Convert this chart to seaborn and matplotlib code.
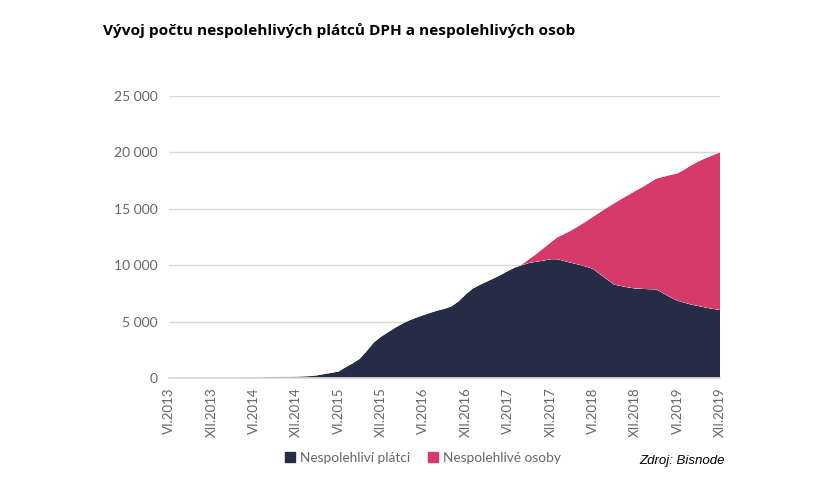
import pandas as pd
import matplotlib
matplotlib.use('Agg')
import matplotlib.pyplot as plt
from matplotlib.patches import Patch
import seaborn as sns
import seaborn.objects as so

sns.set_theme(style='white')
plt.rcParams['font.family'] = ['Lato', 'DejaVu Sans']

# monthly steps from VI.2013 to XII.2019
months = list(range(79))
platci = [0, 0, 0, 0, 0, 0, 0, 0, 30, 30, 40, 50, 50, 60, 100, 100, 110, 110, 120, 140,
          170, 240, 350, 460, 570, 950, 1300, 1700, 2400, 3150, 3650, 4050, 4450, 4800,
          5100, 5350, 5570, 5780, 5980, 6130, 6350, 6800, 7400, 7930, 8250, 8550, 8840,
          9150, 9500, 9800, 10000, 10200, 10310, 10400, 10530, 10530, 10360, 10200,
          10050, 9880, 9680, 9200, 8750, 8280, 8150, 8030, 7930, 7900, 7870, 7860, 7500,
          7150, 6850, 6670, 6500, 6370, 6240, 6130, 6030]
osoby = [0] * 50 + [80, 350, 690, 1100, 1470, 1950, 2420, 2900, 3430, 3990, 4600, 5490,
                    6350, 7200, 7710, 8190, 8650, 9020, 9430, 9820, 10350, 10850, 11300,
                    11830, 12380, 12850, 13260, 13620, 13970]
tick_labels = ['VI.2013', 'XII.2013', 'VI.2014', 'XII.2014', 'VI.2015', 'XII.2015',
               'VI.2016', 'XII.2016', 'VI.2017', 'XII.2017', 'VI.2018', 'XII.2018',
               'VI.2019', 'XII.2019']
y_ticks = [0, 5000, 10000, 15000, 20000, 25000]
y_labels = ['0', '5 000', '10 000', '15 000', '20 000', '25 000']
names = ['Nespolehliví plátci', 'Nespolehlivé osoby']
colors = ['#262c45', '#d53a6a']

df = pd.DataFrame({'mesic': months * 2,
                   'pocet': platci + osoby,
                   'typ': [names[0]] * 79 + [names[1]] * 79})

fig = plt.figure(figsize=(8.4, 4.8), dpi=100, facecolor='white')
ax = fig.add_axes([169 / 840, 1 - 378 / 480, 551 / 840, 282 / 480])

(so.Plot(df, x='mesic', y='pocet', color='typ')
    .add(so.Area(alpha=1, edgewidth=0), so.Stack())
    .scale(color=so.Nominal(dict(zip(names, colors)), order=names))
    .on(ax)
    .plot())
fig.legends.clear()

ax.set_xlim(0, 78)
ax.set_ylim(0, 25000)
ax.set_xlabel('')
ax.set_ylabel('')
ax.set_axisbelow(True)
ax.yaxis.grid(True, color='#d9d9d9', lw=1)
ax.xaxis.grid(False)
ax.set_xticks(months[::6], tick_labels, rotation=90, fontsize=9.5, color='#666666')
ax.set_yticks(y_ticks, y_labels, fontsize=10, color='#666666')
ax.tick_params(axis='both', length=0)
ax.tick_params(axis='x', pad=7)
ax.tick_params(axis='y', pad=8)
sns.despine(ax=ax, left=True, right=True, top=True)
ax.spines['bottom'].set_color('#d9d9d9')

fig.text(103 / 840, 1 - 31 / 480, 'Vývoj počtu nespolehlivých plátců DPH a nespolehlivých osob',
         fontsize=11.05, fontweight='bold', color='black', va='center',
         family=['Open Sans', 'DejaVu Sans'])
fig.text(725 / 840, 1 - 461 / 480, 'Zdroj: Bisnode', fontsize=9.5, style='italic', color='black',
         ha='right', va='center', family=['Liberation Sans'])

handles = [Patch(color=c, label=n) for c, n in zip(colors, names)]
fig.legend(handles=handles, ncol=2, frameon=False, fontsize=9.8, labelcolor='#666666',
           loc='center left', bbox_to_anchor=(273 / 840, 1 - 458 / 480),
           handlelength=0.7, handleheight=0.7, handletextpad=0.4, columnspacing=1.3)

fig.savefig('out.png', dpi=100)
